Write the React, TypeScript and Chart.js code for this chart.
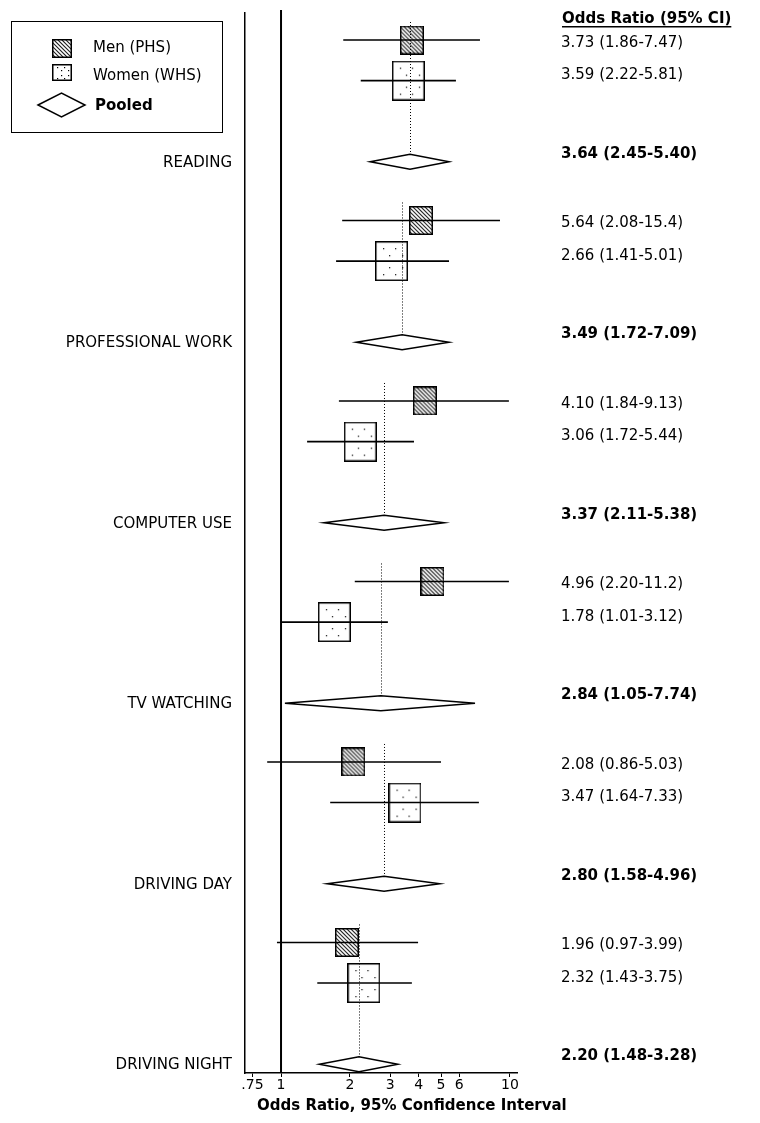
import React, { useEffect, useRef } from 'react';
import { Chart, registerables } from 'chart.js';

Chart.register(...registerables);

const FAMILY = '"DejaVu Sans", Verdana, sans-serif';

// Categories (pooled outcome groups)
const categories = ['READING', 'PROFESSIONAL WORK', 'COMPUTER USE', 'TV WATCHING', 'DRIVING DAY', 'DRIVING NIGHT'];

// Plotted estimates, read from the marks in the picture
const menOR = [3.73, 4.09, 4.25, 4.59, 2.07, 1.94];
const menLow = [1.87, 1.85, 1.79, 2.1, 0.87, 0.96];
const menHigh = [7.4, 9.05, 9.9, 9.9, 5.0, 3.97];

const womenOR = [3.6, 3.04, 2.22, 1.71, 3.48, 2.3];
const womenLow = [2.23, 1.74, 1.3, 1.01, 1.64, 1.44];
const womenHigh = [5.81, 5.42, 3.81, 2.93, 7.32, 3.73];

const pooledOR = [3.66, 3.38, 2.82, 2.73, 2.82, 2.19];
const pooledLow = [2.45, 2.13, 1.54, 1.04, 1.59, 1.47];
const pooledHigh = [5.42, 5.42, 5.16, 7.04, 4.94, 3.24];

// Printed values in the right-hand column
const menText = ['3.73 (1.86-7.47)', '5.64 (2.08-15.4)', '4.10 (1.84-9.13)', '4.96 (2.20-11.2)', '2.08 (0.86-5.03)', '1.96 (0.97-3.99)'];
const womenText = ['3.59 (2.22-5.81)', '2.66 (1.41-5.01)', '3.06 (1.72-5.44)', '1.78 (1.01-3.12)', '3.47 (1.64-7.33)', '2.32 (1.43-3.75)'];
const pooledText = ['3.64 (2.45-5.40)', '3.49 (1.72-7.09)', '3.37 (2.11-5.38)', '2.84 (1.05-7.74)', '2.80 (1.58-4.96)', '2.20 (1.48-3.28)'];

// Axis ticks
const tickValues = [0.75, 1, 2, 3, 4, 5, 6, 10];
const tickLabels = ['.75', '1', '2', '3', '4', '5', '6', '10'];

// layout of rows inside a group (in y-units)
const GROUP_STEP = 4.445;
const rowY = (i: number, k: number) => i * GROUP_STEP + k;

function drawHatchBox(g: CanvasRenderingContext2D, x: number, y: number, w: number, h: number) {
  g.save();
  g.fillStyle = '#fff';
  g.fillRect(x, y, w, h);
  g.beginPath();
  g.rect(x, y, w, h);
  g.clip();
  g.strokeStyle = '#222';
  g.lineWidth = 1.1;
  g.beginPath();
  for (let k = -h; k < w + 2; k += 4) {
    g.moveTo(x + k, y);
    g.lineTo(x + k + h, y + h);
  }
  g.stroke();
  g.restore();
  g.save();
  g.strokeStyle = '#000';
  g.lineWidth = 1.5;
  g.strokeRect(x + 0.75, y + 0.75, w - 1.5, h - 1.5);
  g.restore();
}

function drawDotBox(g: CanvasRenderingContext2D, x: number, y: number, w: number, h: number) {
  g.save();
  g.fillStyle = '#fff';
  g.fillRect(x, y, w, h);
  g.fillStyle = '#000';
  const rows = [0.18, 0.35, 0.65, 0.82];
  rows.forEach((ry, r) => {
    const xs = r === 0 || r === 3 ? [0.23, 0.62] : [0.43, 0.81];
    xs.forEach((rx) => g.fillRect(Math.round(x + rx * w), Math.round(y + ry * h), 1.2, 1.2));
  });
  g.strokeStyle = '#000';
  g.lineWidth = 1.5;
  g.strokeRect(x + 0.75, y + 0.75, w - 1.5, h - 1.5);
  g.restore();
}

function makeBox(kind: 'hatch' | 'dot', w: number, h: number) {
  const c = document.createElement('canvas');
  c.width = w;
  c.height = h;
  const g = c.getContext('2d')!;
  if (kind === 'hatch') drawHatchBox(g, 0, 0, w, h);
  else drawDotBox(g, 0, 0, w, h);
  return c;
}

function drawDiamond(g: CanvasRenderingContext2D, x0: number, xm: number, x1: number, y: number, hh: number) {
  g.beginPath();
  g.moveTo(x0, y);
  g.lineTo(xm, y - hh);
  g.lineTo(x1, y);
  g.lineTo(xm, y + hh);
  g.closePath();
  g.fillStyle = '#fff';
  g.fill();
  g.strokeStyle = '#000';
  g.lineWidth = 1.5;
  g.stroke();
}

const forestPlugin = {
  id: 'forest',
  beforeDatasetsDraw(chart: any) {
    const { ctx, chartArea, scales } = chart;
    const x1 = scales.x.getPixelForValue(1);
    ctx.save();
    ctx.strokeStyle = '#000';
    ctx.lineWidth = 2;
    ctx.beginPath();
    ctx.moveTo(x1, chartArea.top - 3);
    ctx.lineTo(x1, chartArea.bottom);
    ctx.stroke();
    ctx.restore();
  },
  afterDatasetsDraw(chart: any) {
    const { ctx, chartArea, scales } = chart;
    const xs = scales.x;
    const ys = scales.y;
    ctx.save();
    ctx.beginPath();
    ctx.rect(chartArea.left, chartArea.top - 5, chartArea.right - chartArea.left, chartArea.bottom - chartArea.top + 5);
    ctx.clip();
    categories.forEach((_, i) => {
      const yM = ys.getPixelForValue(rowY(i, 0));
      const yW = ys.getPixelForValue(rowY(i, 1));
      const yP = ys.getPixelForValue(rowY(i, 3));
      // CI lines
      ctx.strokeStyle = '#000';
      ctx.lineWidth = 1.6;
      ctx.beginPath();
      ctx.moveTo(xs.getPixelForValue(menLow[i]), yM);
      ctx.lineTo(xs.getPixelForValue(menHigh[i]), yM);
      ctx.moveTo(xs.getPixelForValue(womenLow[i]), yW);
      ctx.lineTo(xs.getPixelForValue(womenHigh[i]), yW);
      ctx.stroke();
      // dotted pooled line
      const xp = Math.round(xs.getPixelForValue(pooledOR[i])) + 0.5;
      ctx.save();
      ctx.setLineDash([1, 2]);
      ctx.lineWidth = 1;
      ctx.strokeStyle = '#000';
      ctx.beginPath();
      ctx.moveTo(xp, yM - 18);
      ctx.lineTo(xp, yP - 7);
      ctx.stroke();
      ctx.restore();
      // diamond
      drawDiamond(ctx, xs.getPixelForValue(pooledLow[i]), xs.getPixelForValue(pooledOR[i]), xs.getPixelForValue(pooledHigh[i]), yP, 7.5);
    });
    ctx.restore();
  },
  afterDraw(chart: any) {
    const { ctx, scales } = chart;
    const ys = scales.y;
    ctx.save();
    ctx.fillStyle = '#000';
    ctx.textBaseline = 'middle';
    categories.forEach((cat, i) => {
      const yM = ys.getPixelForValue(rowY(i, 0));
      const yW = ys.getPixelForValue(rowY(i, 1));
      const yP = ys.getPixelForValue(rowY(i, 3));
      ctx.font = `15px ${FAMILY}`;
      ctx.textAlign = 'right';
      ctx.fillText(cat, 232, yP + 1);
      ctx.textAlign = 'left';
      ctx.fillText(menText[i], 561, yM + 3);
      ctx.fillText(womenText[i], 561, yW - 5);
      ctx.font = `bold 15px ${FAMILY}`;
      ctx.fillText(pooledText[i], 561, yP - 8);
    });
    // header
    ctx.font = `bold 15px ${FAMILY}`;
    ctx.textAlign = 'left';
    const head = 'Odds Ratio (95% CI)';
    ctx.fillText(head, 562, 19);
    const hw = ctx.measureText(head).width;
    ctx.fillRect(562, 26, hw, 1.5);
    // x axis title
    ctx.fillText('Odds Ratio, 95% Confidence Interval', 257, 1106);
    // legend
    ctx.strokeStyle = '#000';
    ctx.lineWidth = 1;
    ctx.strokeRect(11.5, 21.5, 211, 111);
    drawHatchBox(ctx, 52, 39, 20, 19);
    drawDotBox(ctx, 52, 64, 20, 17);
    drawDiamond(ctx, 38, 61.5, 85, 105, 12);
    ctx.fillStyle = '#000';
    ctx.font = `15px ${FAMILY}`;
    ctx.fillText('Men (PHS)', 93, 48);
    ctx.fillText('Women (WHS)', 93, 76);
    ctx.font = `bold 15px ${FAMILY}`;
    ctx.fillText('Pooled', 95, 106);
    ctx.restore();
  },
};

export default function App() {
  const ref = useRef<HTMLCanvasElement | null>(null);

  useEffect(() => {
    const canvas = ref.current;
    if (!canvas) return;
    const menImg = makeBox('hatch', 24, 29);
    const womenImg = makeBox('dot', 33, 40);
    const chart = new Chart(canvas, {
      type: 'scatter',
      data: {
        datasets: [
          {
            label: 'Men (PHS)',
            data: menOR.map((v, i) => ({ x: v, y: rowY(i, 0) })),
            pointStyle: menImg as any,
            pointRadius: 12,
            pointHoverRadius: 12,
          },
          {
            label: 'Women (WHS)',
            data: womenOR.map((v, i) => ({ x: v, y: rowY(i, 1) })),
            pointStyle: womenImg as any,
            pointRadius: 16,
            pointHoverRadius: 16,
          },
        ],
      },
      options: {
        responsive: false,
        animation: false,
        events: [],
        layout: { autoPadding: false, padding: { left: 245, right: 243, top: 13, bottom: 0 } },
        plugins: { legend: { display: false }, tooltip: { enabled: false } },
        scales: {
          x: {
            type: 'logarithmic',
            min: 0.696,
            max: 10.74,
            afterBuildTicks: (s: any) => {
              s.ticks = tickValues.map((v) => ({ value: v }));
            },
            afterFit: (s: any) => {
              s.height = 50;
            },
            ticks: {
              autoSkip: false,
              maxRotation: 0,
              minRotation: 0,
              color: '#000',
              padding: 0,
              font: { size: 14, family: FAMILY },
              callback: (v: any) => {
                const idx = tickValues.findIndex((t) => Math.abs(t - Number(v)) < 1e-6);
                return idx >= 0 ? tickLabels[idx] : '';
              },
            },
            grid: { display: true, drawOnChartArea: false, drawTicks: true, tickLength: 4, color: '#000' },
            border: { display: true, color: '#000', width: 1.5 },
          },
          y: {
            type: 'linear',
            reverse: true,
            min: -0.665,
            max: 25.44,
            afterFit: (s: any) => {
              s.width = 0;
            },
            ticks: { display: false },
            grid: { display: false },
            border: { display: true, color: '#000', width: 1.5 },
          },
        },
      } as any,
      plugins: [forestPlugin],
    });
    return () => chart.destroy();
  }, []);

  return (
    <div style={{ position: 'absolute', left: 0, top: 0, width: 760, height: 1123, background: '#fff' }}>
      <canvas ref={ref} width={760} height={1123} style={{ display: 'block' }} />
    </div>
  );
}
